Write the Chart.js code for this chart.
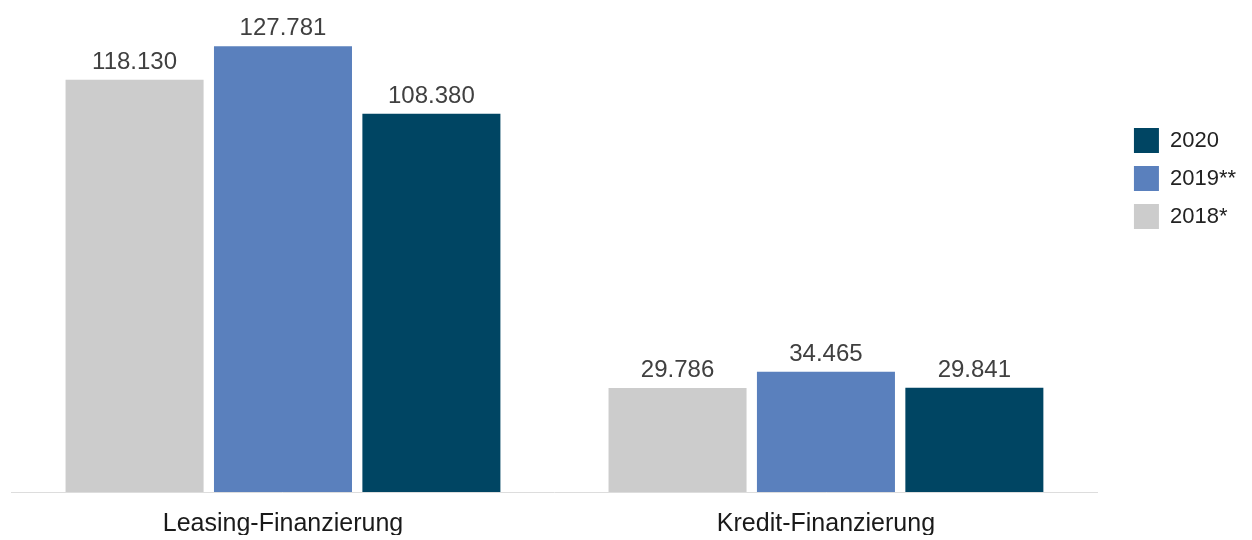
<!DOCTYPE html>
<html lang="de">
<head>
<meta charset="utf-8">
<title>Leasing- und Kredit-Finanzierung</title>
<script src="https://cdn.jsdelivr.net/npm/chart.js@4"></script>
<style>
  html, body { margin: 0; padding: 0; background: #ffffff; }
  #wrap { position: relative; width: 1252px; height: 540px; }
</style>
</head>
<body>
<div id="wrap"><canvas id="chart" width="1252" height="540"></canvas></div>
<script>
// Kategorien und Werte je Jahr
const categories = ['Leasing-Finanzierung', 'Kredit-Finanzierung'];
const seriesLabels = ['2018*', '2019**', '2020'];
const values2018 = [118130, 29786];
const values2019 = [127781, 34465];
const values2020 = [108380, 29841];
const seriesColors = ['#cccccc', '#5a80bd', '#004563'];

const FONT = '"Liberation Sans", Arial, Helvetica, sans-serif';
const numberFormat = new Intl.NumberFormat('de-DE');

// Wertbeschriftungen über den Balken
const valueLabels = {
  id: 'valueLabels',
  afterDatasetsDraw(chart) {
    const ctx = chart.ctx;
    ctx.save();
    ctx.font = '24px ' + FONT;
    ctx.fillStyle = '#404040';
    ctx.textAlign = 'center';
    ctx.textBaseline = 'alphabetic';
    chart.data.datasets.forEach((ds, di) => {
      const meta = chart.getDatasetMeta(di);
      if (meta.hidden) return;
      meta.data.forEach((bar, i) => {
        ctx.fillText(numberFormat.format(ds.data[i]), bar.x, bar.y - 11);
      });
    });
    ctx.restore();
  }
};

const datasets = [values2018, values2019, values2020].map((vals, i) => ({
  label: seriesLabels[i],
  data: vals,
  backgroundColor: seriesColors[i],
  borderWidth: 0,
  categoryPercentage: 0.82,
  barPercentage: 0.93
}));

new Chart(document.getElementById('chart'), {
  type: 'bar',
  data: { labels: categories, datasets },
  plugins: [valueLabels],
  options: {
    responsive: false,
    animation: false,
    layout: { padding: { left: 11.5, right: 6, top: 0, bottom: 5 } },
    plugins: {
      tooltip: { enabled: false },
      legend: {
        position: 'right',
        align: 'start',
        reverse: true,
        title: { display: true, text: '', padding: { top: 103, bottom: 0 }, font: { size: 10 } },
        labels: {
          boxWidth: 25,
          boxHeight: 25,
          padding: 13,
          color: '#222222',
          font: { family: FONT, size: 22 }
        }
      }
    },
    scales: {
      x: {
        grid: { display: false, drawTicks: false },
        border: { display: true, color: '#dddddd', width: 1 },
        ticks: { color: '#1a1a1a', padding: 17, font: { family: FONT, size: 25 } },
        afterFit(scale) { scale.height = 43; }
      },
      y: {
        position: 'right',
        min: 0,
        max: 141000,
        grid: { display: false, drawTicks: false },
        border: { display: false },
        ticks: { display: false },
        afterFit(scale) { scale.width = 23.5; }
      }
    }
  }
});
</script>
</body>
</html>
